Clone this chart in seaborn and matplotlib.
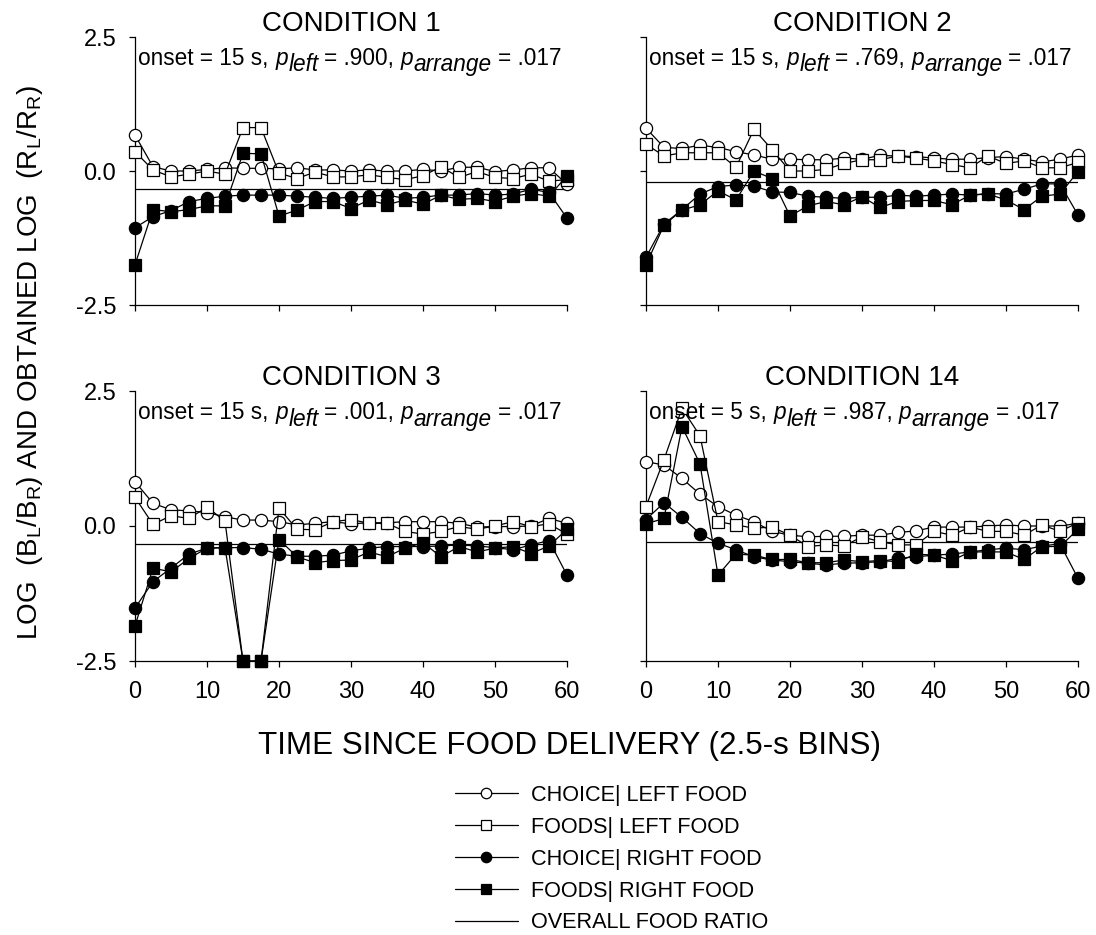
import matplotlib
matplotlib.use("Agg")
import matplotlib.pyplot as plt
from matplotlib.lines import Line2D
import seaborn as sns

sns.set_theme(style="ticks")
plt.rcParams["font.family"] = ["Liberation Sans", "DejaVu Sans"]
plt.rcParams["mathtext.fontset"] = "custom"
plt.rcParams["mathtext.rm"] = "Liberation Sans"
plt.rcParams["mathtext.it"] = "Liberation Sans:italic"
plt.rcParams["axes.unicode_minus"] = False
plt.rcParams["text.color"] = "black"
plt.rcParams["legend.labelcolor"] = "black"

# ---------------- data ----------------
bins = [0, 2.5, 5, 7.5, 10, 12.5, 15, 17.5, 20, 22.5, 25, 27.5, 30, 32.5, 35,
        37.5, 40, 42.5, 45, 47.5, 50, 52.5, 55, 57.5, 60]

titles = ["CONDITION 1", "CONDITION 2", "CONDITION 3", "CONDITION 14"]
onsets = ["15", "15", "15", "5"]
p_left = [".900", ".769", ".001", ".987"]
p_arrange = [".017", ".017", ".017", ".017"]

c1_choice_left = [0.67, 0.08, 0.00, 0.00, 0.03, 0.06, 0.05, 0.05, 0.04, 0.06, 0.02, 0.02, 0.00,
                  0.02, 0.00, 0.00, 0.03, 0.00, 0.07, 0.07, -0.01, 0.02, 0.06, 0.06, -0.25]
c1_foods_left = [0.36, 0.02, -0.11, -0.06, 0.00, -0.06, 0.81, 0.81, -0.04, -0.14, -0.02, -0.11, -0.11,
                 -0.07, -0.12, -0.16, -0.09, 0.08, -0.12, -0.01, -0.12, -0.14, -0.06, -0.19, -0.16]
c1_choice_right = [-1.06, -0.85, -0.74, -0.57, -0.51, -0.47, -0.45, -0.45, -0.45, -0.47, -0.49, -0.51, -0.49,
                   -0.47, -0.45, -0.51, -0.49, -0.45, -0.45, -0.42, -0.45, -0.43, -0.34, -0.40, -0.88]
c1_foods_right = [-1.75, -0.72, -0.76, -0.72, -0.65, -0.65, 0.33, 0.32, -0.84, -0.73, -0.57, -0.57, -0.70,
                  -0.54, -0.63, -0.54, -0.62, -0.45, -0.53, -0.51, -0.57, -0.47, -0.42, -0.47, -0.09]
c1_overall = -0.34

c2_choice_left = [0.80, 0.44, 0.42, 0.48, 0.44, 0.36, 0.30, 0.22, 0.22, 0.21, 0.21, 0.24, 0.22,
                  0.29, 0.28, 0.27, 0.24, 0.22, 0.22, 0.25, 0.27, 0.22, 0.17, 0.22, 0.30]
c2_foods_left = [0.50, 0.28, 0.34, 0.34, 0.34, 0.07, 0.78, 0.40, 0.00, 0.00, 0.03, 0.14, 0.21,
                 0.21, 0.28, 0.24, 0.19, 0.12, 0.06, 0.28, 0.14, 0.19, 0.06, 0.06, 0.16]
c2_choice_right = [-1.61, -0.99, -0.72, -0.43, -0.29, -0.26, -0.28, -0.39, -0.40, -0.47, -0.49, -0.51, -0.49,
                   -0.49, -0.45, -0.47, -0.45, -0.43, -0.45, -0.42, -0.43, -0.34, -0.24, -0.24, -0.82]
c2_foods_right = [-1.75, -1.01, -0.73, -0.63, -0.37, -0.54, 0.00, -0.14, -0.84, -0.65, -0.57, -0.63, -0.48,
                  -0.68, -0.57, -0.55, -0.55, -0.63, -0.45, -0.43, -0.54, -0.72, -0.47, -0.43, -0.01]
c2_overall = -0.21

c3_choice_left = [0.82, 0.42, 0.30, 0.28, 0.25, 0.17, 0.11, 0.11, 0.08, 0.02, 0.05, 0.08, 0.04,
                  0.06, 0.06, 0.08, 0.08, 0.08, 0.05, -0.02, -0.01, -0.01, 0.00, 0.14, 0.05]
c3_foods_left = [0.53, 0.03, 0.19, 0.14, 0.35, 0.09, -2.50, -2.50, 0.33, -0.06, -0.07, 0.08, 0.12,
                 0.05, 0.05, -0.10, -0.15, -0.10, -0.01, -0.06, 0.00, 0.08, -0.01, 0.04, -0.15]
c3_choice_right = [-1.52, -1.03, -0.78, -0.52, -0.41, -0.40, -0.40, -0.43, -0.52, -0.56, -0.56, -0.54, -0.46,
                   -0.41, -0.38, -0.38, -0.38, -0.37, -0.35, -0.37, -0.40, -0.44, -0.35, -0.27, -0.91]
c3_foods_right = [-1.85, -0.78, -0.85, -0.60, -0.41, -0.40, -2.50, -2.50, -0.25, -0.57, -0.68, -0.64, -0.63,
                  -0.48, -0.57, -0.41, -0.31, -0.57, -0.38, -0.48, -0.41, -0.38, -0.51, -0.37, -0.06]
c3_overall = -0.34

c4_choice_left = [1.19, 1.13, 0.88, 0.59, 0.36, 0.20, 0.08, -0.10, -0.17, -0.20, -0.19, -0.19, -0.17,
                  -0.17, -0.12, -0.09, -0.02, -0.02, -0.02, 0.00, 0.02, 0.00, 0.00, 0.00, 0.05]
c4_foods_left = [0.36, 1.23, 2.18, 1.67, 0.08, 0.02, -0.04, -0.02, -0.17, -0.38, -0.35, -0.37, -0.20,
                 -0.29, -0.35, -0.35, -0.10, -0.17, -0.02, -0.10, -0.10, -0.17, 0.02, -0.10, 0.06]
c4_choice_right = [0.12, 0.43, 0.16, -0.14, -0.32, -0.44, -0.57, -0.63, -0.66, -0.69, -0.72, -0.69, -0.68,
                   -0.66, -0.60, -0.57, -0.54, -0.52, -0.48, -0.44, -0.41, -0.44, -0.37, -0.33, -0.97]
c4_foods_right = [0.04, 0.14, 1.84, 1.15, -0.91, -0.52, -0.54, -0.62, -0.62, -0.68, -0.68, -0.63, -0.66,
                  -0.64, -0.66, -0.52, -0.54, -0.64, -0.48, -0.48, -0.48, -0.62, -0.38, -0.38, -0.06]
c4_overall = -0.29

x_span = [0, 60]
yticks = [-2.5, 0.0, 2.5]
ytick_labels = ["-2.5", "0.0", "2.5"]
xticks = [0, 10, 20, 30, 40, 50, 60]
xtick_labels = ["0", "10", "20", "30", "40", "50", "60"]

legend_labels = ["CHOICE| LEFT FOOD", "FOODS| LEFT FOOD", "CHOICE| RIGHT FOOD",
                 "FOODS| RIGHT FOOD", "OVERALL FOOD RATIO"]

panels = [
    (c1_choice_left, c1_foods_left, c1_choice_right, c1_foods_right, c1_overall),
    (c2_choice_left, c2_foods_left, c2_choice_right, c2_foods_right, c2_overall),
    (c3_choice_left, c3_foods_left, c3_choice_right, c3_foods_right, c3_overall),
    (c4_choice_left, c4_foods_left, c4_choice_right, c4_foods_right, c4_overall),
]

# ---------------- figure ----------------
W, H = 1096, 935
fig = plt.figure(figsize=(W / 100, H / 100), dpi=100)
fig.patch.set_facecolor("white")


def px_axes(x0, x1, y0, y1):
    return fig.add_axes([x0 / W, 1 - y1 / H, (x1 - x0) / W, (y1 - y0) / H])


axes_px = [(135, 567, 37, 305), (646, 1078, 37, 305),
           (135, 567, 391, 661), (646, 1078, 391, 661)]

MS = 8.8
LW = 0.9
ANN_FS = 16.3
styles = [
    dict(marker="o", markerfacecolor="white"),
    dict(marker="s", markerfacecolor="white"),
    dict(marker="o", markerfacecolor="black"),
    dict(marker="s", markerfacecolor="black"),
]


def annotation(ax, onset, pl, pa):
    # pieces: (text, italic, dx gap in points, dy offset in points)
    sp = 0.278 * ANN_FS
    pieces = [
        ("onset = %s s," % onset, False, 0, 0),
        ("p", True, sp, 0),
        ("left", True, 0.5, -4.5),
        ("= %s," % pl, False, sp * 0.9, 0),
        ("p", True, sp, 0),
        ("arrange", True, 0.5, -4.5),
        ("= %s" % pa, False, sp * 0.9, 0),
    ]
    prev = None
    for txt, ital, dx, dy in pieces:
        style = "italic" if ital else "normal"
        if prev is None:
            prev = ax.annotate(txt, xy=(0.008, 0.895), xycoords="axes fraction",
                               ha="left", va="baseline", fontsize=ANN_FS,
                               fontstyle=style, color="black", annotation_clip=False)
        else:
            prev = ax.annotate(txt, xy=(1, 0.895), xycoords=(prev, "axes fraction"),
                               xytext=(dx, dy), textcoords="offset points",
                               ha="left", va="baseline", fontsize=ANN_FS,
                               fontstyle=style, color="black", annotation_clip=False)


for i, (rect, data) in enumerate(zip(axes_px, panels)):
    ax = px_axes(*rect)
    ax.set_facecolor("white")
    # overall food ratio line
    sns.lineplot(x=x_span, y=[data[4], data[4]], ax=ax, color="black", linewidth=LW)
    for series, st in zip(data[:4], styles):
        sns.lineplot(x=bins, y=series, ax=ax, color="black", linewidth=LW,
                     markersize=MS, markeredgecolor="black", markeredgewidth=0.9,
                     clip_on=False, zorder=3, **st)
    ax.set_xlim(0, 60)
    ax.set_ylim(-2.5, 2.5)
    ax.set_xticks(xticks)
    ax.set_yticks(yticks)
    if i >= 2:
        ax.set_xticklabels(xtick_labels)
    else:
        ax.set_xticklabels([])
    if i % 2 == 0:
        ax.set_yticklabels(ytick_labels)
    else:
        ax.set_yticklabels([])
    ax.tick_params(direction="out", length=4.5, width=0.9, labelsize=17,
                   color="black", labelcolor="black")
    ax.tick_params(axis="x", pad=10)
    ax.tick_params(axis="y", pad=9)
    for s in ["top", "right"]:
        ax.spines[s].set_visible(False)
    for s in ["left", "bottom"]:
        ax.spines[s].set_color("black")
        ax.spines[s].set_linewidth(0.9)
    ax.set_xlabel("")
    ax.set_ylabel("")
    ax.set_title(titles[i], fontsize=20, pad=3, color="black")
    annotation(ax, onsets[i], p_left[i], p_arrange[i])
    ax.grid(False)

fig.text(30 / W, 1 - 362 / H,
         r"LOG  (B$_\mathregular{L}$/B$_\mathregular{R}$) AND OBTAINED LOG  (R$_\mathregular{L}$/R$_\mathregular{R}$)",
         rotation=90, ha="center", va="center", fontsize=20, color="black")
fig.text(570 / W, 1 - 746 / H, "TIME SINCE FOOD DELIVERY (2.5-s BINS)",
         ha="center", va="center", fontsize=22.6, color="black")

handles = []
for st in styles:
    handles.append(Line2D([0], [0], color="black", linewidth=LW, markersize=7.5,
                          markeredgecolor="black", markeredgewidth=0.9, **st))
handles.append(Line2D([0], [0], color="black", linewidth=LW))
fig.legend(handles, legend_labels, loc="upper left",
           bbox_to_anchor=(455 / W, 1 - 785 / H), frameon=False, fontsize=15.6,
           handlelength=2.9, handletextpad=0.6, labelspacing=0.5,
           borderpad=0, borderaxespad=0, labelcolor="black")

fig.savefig("out.png", dpi=100, facecolor="white")
